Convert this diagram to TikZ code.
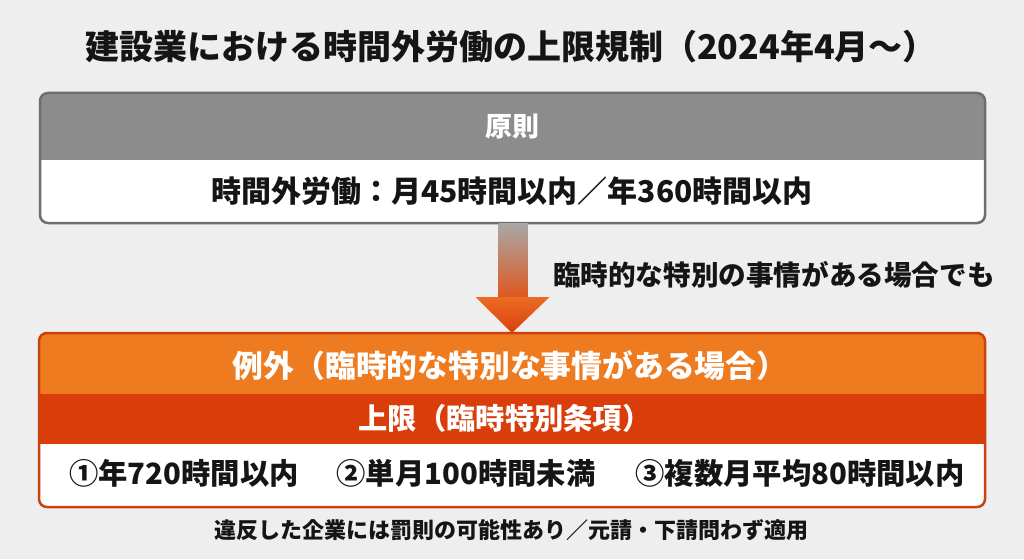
\documentclass[tikz,border=0pt]{standalone}
\usepackage{fontspec}
\setmainfont{Noto Sans CJK JP}
\usetikzlibrary{calc}
\definecolor{bg}{HTML}{EEEEEE}
\definecolor{hdgray}{HTML}{8C8C8C}
\definecolor{bdgray}{HTML}{6E6E6E}
\definecolor{orA}{HTML}{EE7B1F}
\definecolor{orB}{HTML}{D93D0A}
\definecolor{orBd}{HTML}{C9420F}
\definecolor{txt}{HTML}{151515}
\definecolor{shaftTop}{HTML}{A8A8A8}
\definecolor{shaftBot}{HTML}{E0561C}
\definecolor{headTop}{HTML}{EC6B22}
\definecolor{headBot}{HTML}{D9400E}
\newcommand{\fsz}[1]{\fontsize{#1pt}{#1pt}\selectfont}
\begin{document}
\begin{tikzpicture}[x=1pt,y=-1pt,
  every node/.style={inner sep=0pt, outer sep=0pt},
  lbl/.style={font=\bfseries, text=txt},
  wlbl/.style={font=\bfseries, text=white},
  panel/.style={rectangle, rounded corners=8pt, line width=2.5pt}]
\fill[bg] (0,0) rectangle (1024,559);
\useasboundingbox (0,0) rectangle (1024,559);

% title
\node[lbl, font=\bfseries\fsz{34}] (title) at (511,47) {建設業における時間外労働の上限規制（2024年4月〜）};

% top panel
\node[panel, fill=white, minimum width=945pt, minimum height=130pt] (top) at (512.5,158) {};
\begin{scope}
  \clip[rounded corners=8pt] (top.north west) rectangle (top.south east);
  \fill[hdgray] (top.north west) rectangle ($(top.north east)+(0,67)$);
\end{scope}
\draw[panel, draw=bdgray] (top.north west) rectangle (top.south east);
\node[wlbl, font=\bfseries\fsz{27}] (gen) at (512,127) {原則};
\node[lbl, font=\bfseries\fsz{30}] (genbody) at (512,191) {時間外労働：月45時間以内／年360時間以内};

% exception panel
\node[panel, fill=white, minimum width=946pt, minimum height=174pt] (exc) at (512,420) {};
\begin{scope}
  \clip[rounded corners=8pt] (exc.north west) rectangle (exc.south east);
  \fill[orA] (exc.north west) rectangle ($(exc.north east)+(0,61)$);
  \fill[orB] ($(exc.north west)+(0,61)$) rectangle ($(exc.north east)+(0,111)$);
\end{scope}
\draw[panel, draw=orBd] (exc.north west) rectangle (exc.south east);

% arrow
\shade[top color=shaftTop, bottom color=shaftBot]
  ($(top.south)+(-14,0)$) rectangle ($(top.south)+(15,76)$);
\shade[top color=headTop, bottom color=headBot]
  ($(top.south)+(-37,74)$) -- ($(top.south)+(37,74)$) -- (exc.north) -- cycle;
\node[lbl, font=\bfseries\fsz{27.6}, anchor=west] (cond) at (553,275) {臨時的な特別の事情がある場合でも};

\node[wlbl, font=\bfseries\fsz{30.8}] (exct) at (510,366) {例外（臨時的な特別な事情がある場合）};
\node[wlbl, font=\bfseries\fsz{29.3}] (cap) at (505,418) {上限（臨時特別条項）};
\node[lbl, font=\bfseries\fsz{29.3}] (i1) at (184,473) {①年720時間以内};
\node[lbl, font=\bfseries\fsz{29.3}] (i2) at (466,473) {②単月100時間未満};
\node[lbl, font=\bfseries\fsz{29.3}] (i3) at (800,473) {③複数月平均80時間以内};

\node[lbl, font=\bfseries\fsz{22}] (foot) at (511,530) {違反した企業には罰則の可能性あり／元請・下請問わず適用};
\end{tikzpicture}
\end{document}
